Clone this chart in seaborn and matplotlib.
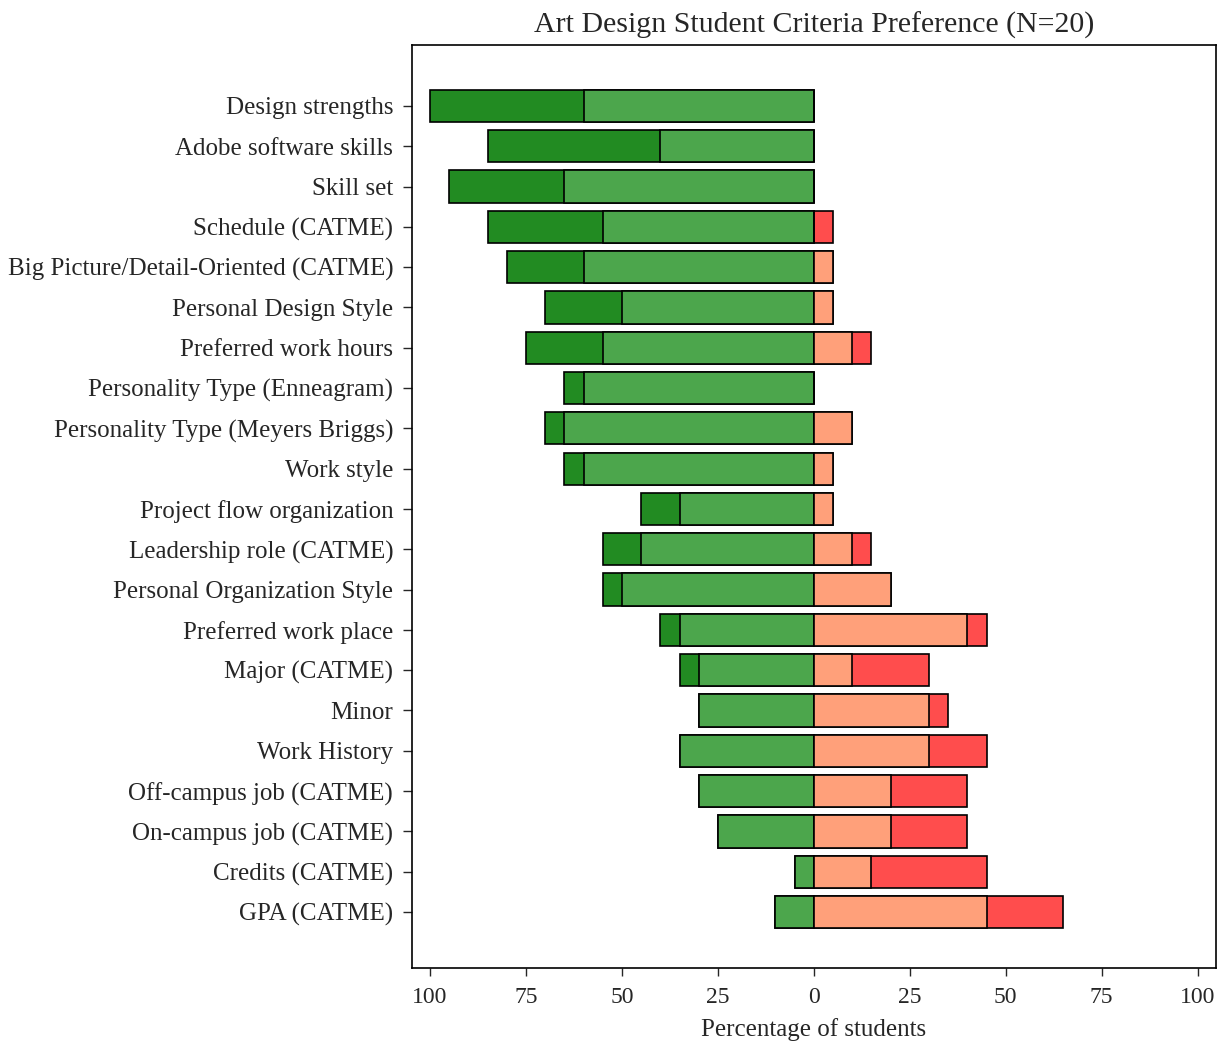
import matplotlib
matplotlib.use("Agg")
import matplotlib.pyplot as plt
import seaborn as sns
import pandas as pd
from matplotlib.ticker import FixedLocator, FuncFormatter

categories = [
    "Design strengths", "Adobe software skills", "Skill set", "Schedule (CATME)",
    "Big Picture/Detail-Oriented (CATME)", "Personal Design Style", "Preferred work hours",
    "Personality Type (Enneagram)", "Personality Type (Meyers Briggs)", "Work style",
    "Project flow organization", "Leadership role (CATME)", "Personal Organization Style",
    "Preferred work place", "Major (CATME)", "Minor", "Work History",
    "Off-campus job (CATME)", "On-campus job (CATME)", "Credits (CATME)", "GPA (CATME)",
]
# percentages (left side: green, right side: salmon/red)
strong_pref = [40, 45, 30, 30, 20, 20, 20, 5, 5, 5, 10, 10, 5, 5, 5, 0, 0, 0, 0, 0, 0]
pref = [60, 40, 65, 55, 60, 50, 55, 60, 65, 60, 35, 45, 50, 35, 30, 30, 35, 30, 25, 5, 10]
not_pref = [0, 0, 0, 0, 5, 5, 10, 0, 10, 5, 5, 10, 20, 40, 10, 30, 30, 20, 20, 15, 45]
strong_not_pref = [0, 0, 0, 5, 0, 0, 5, 0, 0, 0, 0, 5, 0, 5, 20, 5, 15, 20, 20, 30, 20]

sns.set_style("ticks")
plt.rcParams["font.family"] = ["Liberation Serif", "DejaVu Serif"]

df = pd.DataFrame({
    "cat": categories,
    "left_total": [-(a + b) for a, b in zip(strong_pref, pref)],
    "left_inner": [-b for b in pref],
    "right_total": [a + b for a, b in zip(not_pref, strong_not_pref)],
    "right_inner": not_pref,
})

fig = plt.figure(figsize=(12.28, 10.48), dpi=100)
ax = fig.add_axes([0.3355, 0.0763, 0.6545, 0.8807])

layers = [
    ("left_total", "#228B22"),
    ("left_inner", "#4CA64C"),
    ("right_total", "#FF4D4D"),
    ("right_inner", "#FFA07A"),
]
for col, color in layers:
    sns.barplot(data=df, x=col, y="cat", order=categories, orient="h",
                color=color, saturation=1, edgecolor="black", linewidth=1.2,
                errorbar=None, width=0.8, ax=ax)

ax.set_xlim(-104.7, 104.7)
ax.set_ylim(len(categories) - 1 + 1.39, -1.51)
ax.xaxis.set_major_locator(FixedLocator([-100, -75, -50, -25, 0, 25, 50, 75, 100]))
ax.xaxis.set_major_formatter(FuncFormatter(lambda v, p: f"{abs(int(round(v)))}"))
ax.set_xlabel("Percentage of students", fontsize=18, labelpad=7)
ax.set_ylabel("")
ax.set_title("Art Design Student Criteria Preference (N=20)", fontsize=21.5, pad=9)
ax.tick_params(axis="x", labelsize=17, length=6, width=1, pad=8)
ax.tick_params(axis="y", labelsize=18, length=6.5, width=1, pad=7)
for s in ax.spines.values():
    s.set_linewidth(1.2)
    s.set_color("black")

fig.savefig("out.png", dpi=100)
